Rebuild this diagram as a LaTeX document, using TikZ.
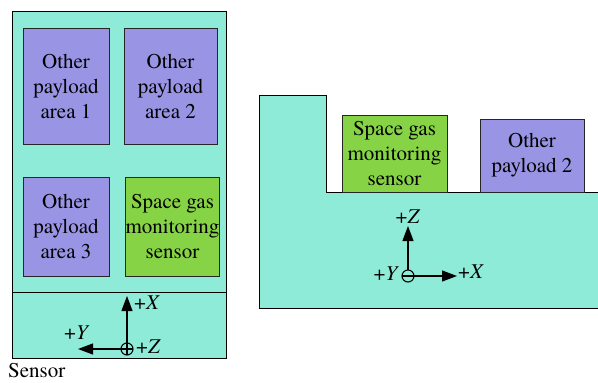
\documentclass[tikz,border=0pt]{standalone}
\usepackage{fontspec}
\setmainfont{TeX Gyre Termes}
\usetikzlibrary{arrows.meta}
\definecolor{bgteal}{RGB}{142,235,216}
\definecolor{boxpurple}{RGB}{153,148,228}
\definecolor{boxgreen}{RGB}{134,212,70}
\begin{document}
\begin{tikzpicture}[x=1pt,y=-1pt,
  pbox/.style={draw=black!85,line width=0.9pt,align=center,inner sep=0pt,
    font=\fontsize{21}{25}\selectfont},
  purplebox/.style={pbox,fill=boxpurple},
  greenbox/.style={pbox,fill=boxgreen},
  axis/.style={line width=1.2pt,-{Triangle[length=15pt,width=11pt]}},
  axlabel/.style={font=\fontsize{21}{24}\selectfont,inner sep=0pt}]
\useasboundingbox (0,0) rectangle (598,383);
% left panel
\fill[bgteal] (12,11) rectangle (226,358);
\draw[line width=0.9pt] (12,11) rectangle (226,358);
\draw[line width=0.9pt] (12,292) -- (226,292);
\node[purplebox,minimum width=86pt,minimum height=116pt] (p1) at (66,86) {Other\\payload\\area 1};
\node[purplebox,minimum width=93pt,minimum height=116pt] (p2) at (170.5,86) {Other\\payload\\area 2};
\node[purplebox,minimum width=86pt,minimum height=99pt] (p3) at (66,226.5) {Other\\payload\\area 3};
\node[greenbox,minimum width=93pt,minimum height=99pt] (g1) at (172.5,226.5) {Space gas\\monitoring\\sensor};
% left axes
\coordinate (lo) at (127,349);
\coordinate (lxt) at (127,296);
\coordinate (lyt) at (78,349);
\draw[line width=1.1pt] (lo) circle (6pt);
\draw[line width=1.1pt] ([yshift=6pt]lo) -- ([yshift=-6pt]lo);
\draw[line width=1.1pt] ([xshift=-6pt]lo) -- ([xshift=6pt]lo);
\draw[axis] (lo) -- (lxt);
\draw[axis] (lo) -- (lyt);
\node[axlabel,anchor=west] (lx) at (134,303) {+\textit{X}};
\node[axlabel,anchor=west] (lz) at (136,347) {+\textit{Z}};
\node[axlabel,anchor=west] (ly) at (64,333) {+\textit{Y}};
\node[font=\fontsize{21}{24}\selectfont,anchor=base west,inner sep=0pt] (cap) at (8,377) {Sensor};
% right panel
\fill[bgteal] (259,95) -- (326,95) -- (326,192) -- (598,192) -- (598,308) -- (259,308) -- cycle;
\draw[line width=0.9pt] (598,192) -- (326,192) -- (326,95) -- (259,95) -- (259,308) -- (598,308);
\node[greenbox,minimum width=105pt,minimum height=77pt] (g2) at (394.5,153.5) {Space gas\\monitoring\\sensor};
\node[purplebox,minimum width=104pt,minimum height=73pt] (p4) at (532,155.5) {Other\\payload 2};
% right axes
\coordinate (ro) at (408,276);
\coordinate (rzt) at (408,226);
\coordinate (rxt) at (457,276);
\draw[line width=1.1pt] (ro) circle (6pt);
\draw[axis] ([xshift=-6pt]ro) -- (rxt);
\draw[axis] ([yshift=6pt]ro) -- (rzt);
\node[axlabel,anchor=south] (rz) at (408,224) {+\textit{Z}};
\node[axlabel,anchor=east] (ry) at (399,274) {+\textit{Y}};
\node[axlabel,anchor=west] (rx) at (458,272) {+\textit{X}};
\end{tikzpicture}
\end{document}
